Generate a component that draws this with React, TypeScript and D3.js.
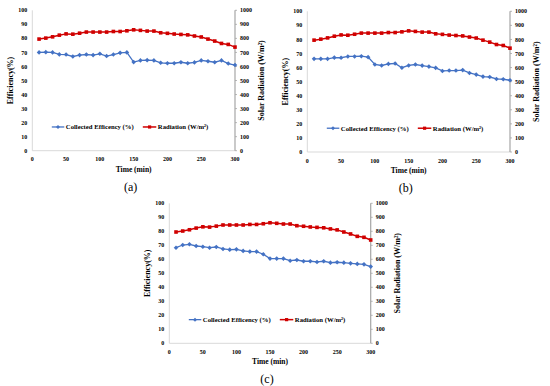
import React from "react";
import * as d3 from "d3";

const times = d3.range(10, 301, 10);

const radiation = [
  795, 802, 811, 823, 832, 830, 837, 845, 845, 845, 845, 849, 849, 854, 861,
  857, 852, 852, 840, 836, 831, 828, 825, 817, 810, 795, 781, 764, 757, 738,
];

const effA = [
  70, 70.2, 70, 68.6, 68.5, 67.1, 68.1, 68.5, 68.1, 69, 67.4, 68.5, 69.7, 70,
  63.1, 64.3, 64.5, 64.3, 62.6, 62.3, 62.3, 63, 62.3, 62.9, 64.3, 63.7, 63,
  64.3, 62.1, 61,
];

const effB = [
  66.2, 66.2, 66.2, 67.1, 67, 67.9, 67.9, 68.1, 67.4, 62.2, 61.5, 62.6, 62.9,
  59.9, 61.5, 62.2, 61.4, 60.7, 59.8, 57.6, 57.9, 57.9, 58.2, 56.2, 55, 53.6,
  53.3, 51.9, 51.7, 51,
];

const effC = [
  68.3, 70.2, 70.7, 69.5, 69, 68.3, 68.8, 67.4, 66.9, 67.1, 66, 65.5, 65.5,
  63.6, 60.5, 60.5, 60.5, 59, 59.5, 58.6, 58.6, 58.1, 58.6, 57.6, 57.9, 57.6,
  57.1, 56.7, 56.4, 54.8,
];

const xTicks = [0, 50, 100, 150, 200, 250, 300];
const leftTicks = d3.range(0, 101, 10);
const rightTicks = d3.range(0, 1001, 100);

const BLUE = "#4472C4";
const RED = "#D00000";
const FONT = "'Liberation Serif', 'Times New Roman', serif";

interface PanelProps {
  x0: number;
  x1: number;
  yTop: number;
  yBot: number;
  eff: number[];
  label: string;
}

const Panel: React.FC<PanelProps> = ({ x0, x1, yTop, yBot, eff, label }) => {
  const x = d3.scaleLinear().domain([0, 300]).range([x0, x1]);
  const yL = d3.scaleLinear().domain([0, 100]).range([yBot, yTop]);
  const yR = d3.scaleLinear().domain([0, 1000]).range([yBot, yTop]);

  const effLine = d3
    .line<number>()
    .x((_, i) => x(times[i]))
    .y((d) => yL(d));
  const radLine = d3
    .line<number>()
    .x((_, i) => x(times[i]))
    .y((d) => yR(d));

  const midY = (yTop + yBot) / 2;
  const legY = yL(16.9);

  return (
    <g>
      {/* axes */}
      <line x1={x0} x2={x0} y1={yTop} y2={yBot} stroke="#D9D9D9" strokeWidth={1} />
      <line x1={x0} x2={x1} y1={yBot} y2={yBot} stroke="#D9D9D9" strokeWidth={1} />
      <line x1={x1} x2={x1} y1={yTop} y2={yBot} stroke="#A6A6A6" strokeWidth={1.2} />
      {rightTicks.map((t) => (
        <line key={t} x1={x1} x2={x1 + 2} y1={yR(t)} y2={yR(t)} stroke="#A6A6A6" strokeWidth={0.8} />
      ))}

      {leftTicks.map((t) => (
        <text key={t} x={x0 - 5} y={yL(t)} dy="0.35em" textAnchor="end" fontSize={6} fontWeight="bold" fontFamily={FONT}>
          {t}
        </text>
      ))}
      {rightTicks.map((t) => (
        <text key={t} x={x1 + 5} y={yR(t)} dy="0.35em" textAnchor="start" fontSize={6} fontWeight="bold" fontFamily={FONT}>
          {t}
        </text>
      ))}
      {xTicks.map((t) => (
        <text key={t} x={x(t)} y={yBot + 10.5} textAnchor="middle" fontSize={6} fontWeight="bold" fontFamily={FONT}>
          {t}
        </text>
      ))}

      <text
        transform={`translate(${x0 - 19},${midY}) rotate(-90)`}
        textAnchor="middle"
        fontSize={8}
        fontWeight="bold"
        fontFamily={FONT}
      >
        Efficiency(%)
      </text>
      <text
        transform={`translate(${x1 + 29},${midY}) rotate(-90)`}
        textAnchor="middle"
        fontSize={8}
        fontWeight="bold"
        fontFamily={FONT}
      >
        Solar Radiation (W/m²)
      </text>
      <text x={(x0 + x1) / 2} y={yBot + 21} textAnchor="middle" fontSize={7.5} fontWeight="bold" fontFamily={FONT}>
        Time (min)
      </text>
      <text x={(x0 + x1) / 2 - 3} y={yBot + 40} textAnchor="middle" fontSize={12} fontFamily={FONT}>
        {label}
      </text>

      {/* series */}
      <path d={radLine(radiation) ?? ""} fill="none" stroke={RED} strokeWidth={1.5} />
      {radiation.map((d, i) => (
        <rect key={i} x={x(times[i]) - 1.8} y={yR(d) - 1.8} width={3.6} height={3.6} fill={RED} />
      ))}
      <path d={effLine(eff) ?? ""} fill="none" stroke={BLUE} strokeWidth={1.3} />
      {eff.map((d, i) => (
        <path
          key={i}
          d={`M${x(times[i])},${yL(d) - 2.3}l2.3,2.3l-2.3,2.3l-2.3,-2.3z`}
          fill={BLUE}
        />
      ))}

      {/* legend */}
      <line x1={x0 + 19.5} x2={x0 + 32} y1={legY} y2={legY} stroke={BLUE} strokeWidth={1.3} />
      <path d={`M${x0 + 25.7},${legY - 2}l2,2l-2,2l-2,-2z`} fill={BLUE} />
      <text x={x0 + 33.5} y={legY} dy="0.35em" fontSize={6.7} fontWeight="bold" fontFamily={FONT}>
        Collected Efficency (%)
      </text>
      <line x1={x0 + 110.5} x2={x0 + 124} y1={legY} y2={legY} stroke={RED} strokeWidth={1.5} />
      <rect x={x0 + 115.7} y={legY - 1.6} width={3.2} height={3.2} fill={RED} />
      <text x={x0 + 125.5} y={legY} dy="0.35em" fontSize={6.7} fontWeight="bold" fontFamily={FONT}>
        Radiation (W/m²)
      </text>
    </g>
  );
};

const App: React.FC = () => {
  return (
    <div style={{ position: "absolute", left: 0, top: 0 }}>
      <svg width={550} height={386} style={{ display: "block", background: "#fff" }}>
        <Panel x0={32.3} x1={235} yTop={10.3} yBot={150.7} eff={effA} label="(a)" />
        <Panel x0={307.3} x1={510} yTop={11.3} yBot={152} eff={effB} label="(b)" />
        <Panel x0={169.3} x1={370.7} yTop={203.3} yBot={343.3} eff={effC} label="(c)" />
      </svg>
    </div>
  );
};

export default App;
